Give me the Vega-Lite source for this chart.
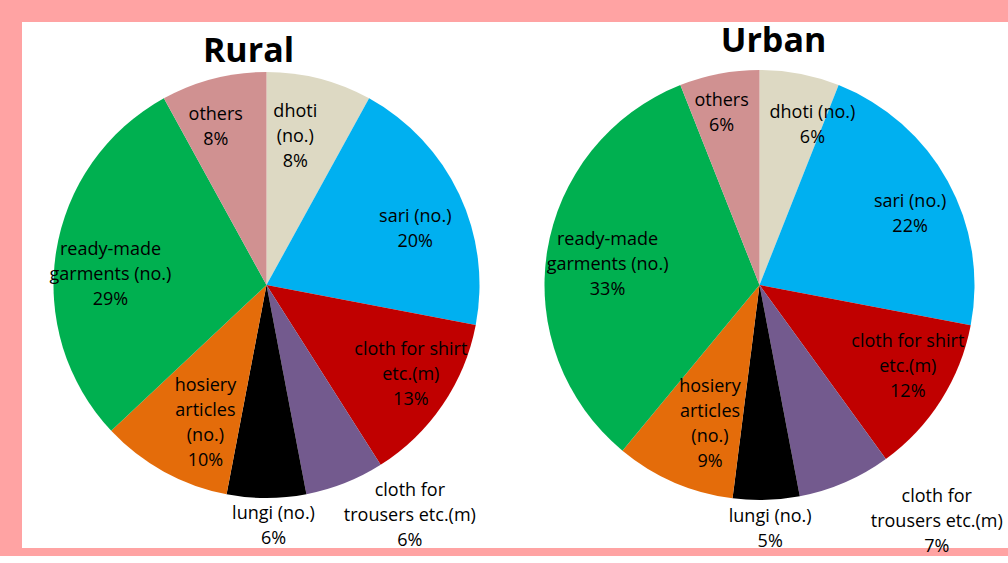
{
  "$schema": "https://vega.github.io/schema/vega-lite/v6.json",
  "background": "#FFA3A3",
  "padding": {"left": 22, "top": 22, "right": 0, "bottom": 0},
  "bounds": "flush",
  "spacing": 0,
  "config": {"view": {"stroke": null}, "text": {"font": "Open Sans", "fontSize": 18, "lineHeight": 25, "lineBreak": "\n", "color": "black", "baseline": "middle"}},
  "datasets": {
    "pie": [
      {"area": "Rural", "item": "dhoti (no.)", "pct": 8, "ord": 1, "lab": "dhoti\n(no.)\n8%"},
      {"area": "Rural", "item": "sari (no.)", "pct": 20, "ord": 2, "lab": "sari (no.)\n20%"},
      {"area": "Rural", "item": "cloth for shirt etc.(m)", "pct": 13, "ord": 3, "lab": "cloth for shirt\netc.(m)\n13%"},
      {"area": "Rural", "item": "cloth for trousers etc.(m)", "pct": 6, "ord": 4, "lab": "cloth for\ntrousers etc.(m)\n6%"},
      {"area": "Rural", "item": "lungi (no.)", "pct": 6, "ord": 5, "lab": "lungi (no.)\n6%"},
      {"area": "Rural", "item": "hosiery articles (no.)", "pct": 10, "ord": 6, "lab": "hosiery\narticles\n(no.)\n10%"},
      {"area": "Rural", "item": "ready-made garments (no.)", "pct": 29, "ord": 7, "lab": "ready-made\ngarments (no.)\n29%"},
      {"area": "Rural", "item": "others", "pct": 8, "ord": 8, "lab": "others\n8%"},
      {"area": "Urban", "item": "dhoti (no.)", "pct": 6, "ord": 1, "lab": "dhoti (no.)\n6%"},
      {"area": "Urban", "item": "sari (no.)", "pct": 22, "ord": 2, "lab": "sari (no.)\n22%"},
      {"area": "Urban", "item": "cloth for shirt etc.(m)", "pct": 12, "ord": 3, "lab": "cloth for shirt\netc.(m)\n12%"},
      {"area": "Urban", "item": "cloth for trousers etc.(m)", "pct": 7, "ord": 4, "lab": "cloth for\ntrousers etc.(m)\n7%"},
      {"area": "Urban", "item": "lungi (no.)", "pct": 5, "ord": 5, "lab": "lungi (no.)\n5%"},
      {"area": "Urban", "item": "hosiery articles (no.)", "pct": 9, "ord": 6, "lab": "hosiery\narticles\n(no.)\n9%"},
      {"area": "Urban", "item": "ready-made garments (no.)", "pct": 33, "ord": 7, "lab": "ready-made\ngarments (no.)\n33%"},
      {"area": "Urban", "item": "others", "pct": 6, "ord": 8, "lab": "others\n6%"}
    ]
  },
  "hconcat": [
    {
      "width": 489,
      "height": 526,
      "data": {"name": "pie"},
      "transform": [{"filter": "datum.area === 'Rural'"}],
      "title": {"text": "Rural", "font": "Open Sans", "fontSize": 34, "fontWeight": "bold", "color": "black", "anchor": "middle", "frame": "group", "offset": -74, "baseline": "alphabetic", "dx": -18},
      "layer": [
        {"mark": {"type": "rect", "color": "white"}, "encoding": {}},
        {
          "encoding": {
            "theta": {"field": "pct", "type": "quantitative", "stack": true},
            "order": {"field": "ord", "type": "quantitative"}
          },
          "layer": [
            {
              "mark": {"type": "arc", "outerRadius": 213},
              "encoding": {
                "color": {"field": "item", "type": "nominal", "legend": null,
                  "scale": {"domain": ["dhoti (no.)", "sari (no.)", "cloth for shirt etc.(m)", "cloth for trousers etc.(m)", "lungi (no.)", "hosiery articles (no.)", "ready-made garments (no.)", "others"],
                            "range": ["#DDD9C3", "#00B0F0", "#C00000", "#735A8E", "#000000", "#E46C0A", "#00B050", "#D09191"]}}
              }
            },
            {"mark": {"type": "text", "radius": 160, "dx": -11, "dy": -18},
             "encoding": {"text": {"condition": {"test": "datum.item === 'dhoti (no.)'", "field": "lab", "type": "nominal"}, "value": ""}}},
            {"mark": {"type": "text", "radius": 160, "dx": 4, "dy": 0},
             "encoding": {"text": {"condition": {"test": "datum.item === 'sari (no.)'", "field": "lab", "type": "nominal"}, "value": ""}}},
            {"mark": {"type": "text", "radius": 160, "dx": 12, "dy": -25},
             "encoding": {"text": {"condition": {"test": "datum.item === 'cloth for shirt etc.(m)'", "field": "lab", "type": "nominal"}, "value": ""}}},
            {"mark": {"type": "text", "radius": 160, "dx": 16, "dy": -39},
             "encoding": {"text": {"condition": {"test": "datum.item === 'hosiery articles (no.)'", "field": "lab", "type": "nominal"}, "value": ""}}},
            {"mark": {"type": "text", "radius": 160, "dx": 2, "dy": -10},
             "encoding": {"text": {"condition": {"test": "datum.item === 'ready-made garments (no.)'", "field": "lab", "type": "nominal"}, "value": ""}}},
            {"mark": {"type": "text", "radius": 160, "dx": -11, "dy": -15},
             "encoding": {"text": {"condition": {"test": "datum.item === 'others'", "field": "lab", "type": "nominal"}, "value": ""}}},
            {"mark": {"type": "text", "radius": 240, "dx": 7, "dy": -11},
             "encoding": {"text": {"condition": {"test": "datum.item === 'lungi (no.)'", "field": "lab", "type": "nominal"}, "value": ""}}},
            {"mark": {"type": "text", "radius": 240, "dx": 55, "dy": -17},
             "encoding": {"text": {"condition": {"test": "datum.item === 'cloth for trousers etc.(m)'", "field": "lab", "type": "nominal"}, "value": ""}}}
          ]
        }
      ]
    },
    {
      "width": 497,
      "height": 526,
      "data": {"name": "pie"},
      "transform": [{"filter": "datum.area === 'Urban'"}],
      "title": {"text": "Urban", "font": "Open Sans", "fontSize": 34, "fontWeight": "bold", "color": "black", "anchor": "middle", "frame": "group", "offset": -64, "baseline": "alphabetic", "dx": 14},
      "layer": [
        {"mark": {"type": "rect", "color": "white"}, "encoding": {}},
        {
          "encoding": {
            "theta": {"field": "pct", "type": "quantitative", "stack": true},
            "order": {"field": "ord", "type": "quantitative"}
          },
          "layer": [
            {
              "mark": {"type": "arc", "outerRadius": 215},
              "encoding": {
                "color": {"field": "item", "type": "nominal", "legend": null,
                  "scale": {"domain": ["dhoti (no.)", "sari (no.)", "cloth for shirt etc.(m)", "cloth for trousers etc.(m)", "lungi (no.)", "hosiery articles (no.)", "ready-made garments (no.)", "others"],
                            "range": ["#DDD9C3", "#00B0F0", "#C00000", "#735A8E", "#000000", "#E46C0A", "#00B050", "#D09191"]}}
              }
            },
            {"mark": {"type": "text", "radius": 165, "dx": 22, "dy": -10},
             "encoding": {"text": {"condition": {"test": "datum.item === 'dhoti (no.)'", "field": "lab", "type": "nominal"}, "value": ""}}},
            {"mark": {"type": "text", "radius": 165, "dx": 6, "dy": -4},
             "encoding": {"text": {"condition": {"test": "datum.item === 'sari (no.)'", "field": "lab", "type": "nominal"}, "value": ""}}},
            {"mark": {"type": "text", "radius": 165, "dx": 9, "dy": -31},
             "encoding": {"text": {"condition": {"test": "datum.item === 'cloth for shirt etc.(m)'", "field": "lab", "type": "nominal"}, "value": ""}}},
            {"mark": {"type": "text", "radius": 165, "dx": 16, "dy": -49},
             "encoding": {"text": {"condition": {"test": "datum.item === 'hosiery articles (no.)'", "field": "lab", "type": "nominal"}, "value": ""}}},
            {"mark": {"type": "text", "radius": 165, "dx": 11, "dy": -19},
             "encoding": {"text": {"condition": {"test": "datum.item === 'ready-made garments (no.)'", "field": "lab", "type": "nominal"}, "value": ""}}},
            {"mark": {"type": "text", "radius": 165, "dx": -7, "dy": -22},
             "encoding": {"text": {"condition": {"test": "datum.item === 'others'", "field": "lab", "type": "nominal"}, "value": ""}}},
            {"mark": {"type": "text", "radius": 245, "dx": 3, "dy": -13},
             "encoding": {"text": {"condition": {"test": "datum.item === 'lungi (no.)'", "field": "lab", "type": "nominal"}, "value": ""}}},
            {"mark": {"type": "text", "radius": 245, "dx": 80, "dy": -13, "limit": 138, "ellipsis": "\u200b"},
             "encoding": {"text": {"condition": {"test": "datum.item === 'cloth for trousers etc.(m)'", "field": "lab", "type": "nominal"}, "value": ""}}}
          ]
        }
      ]
    }
  ]
}
